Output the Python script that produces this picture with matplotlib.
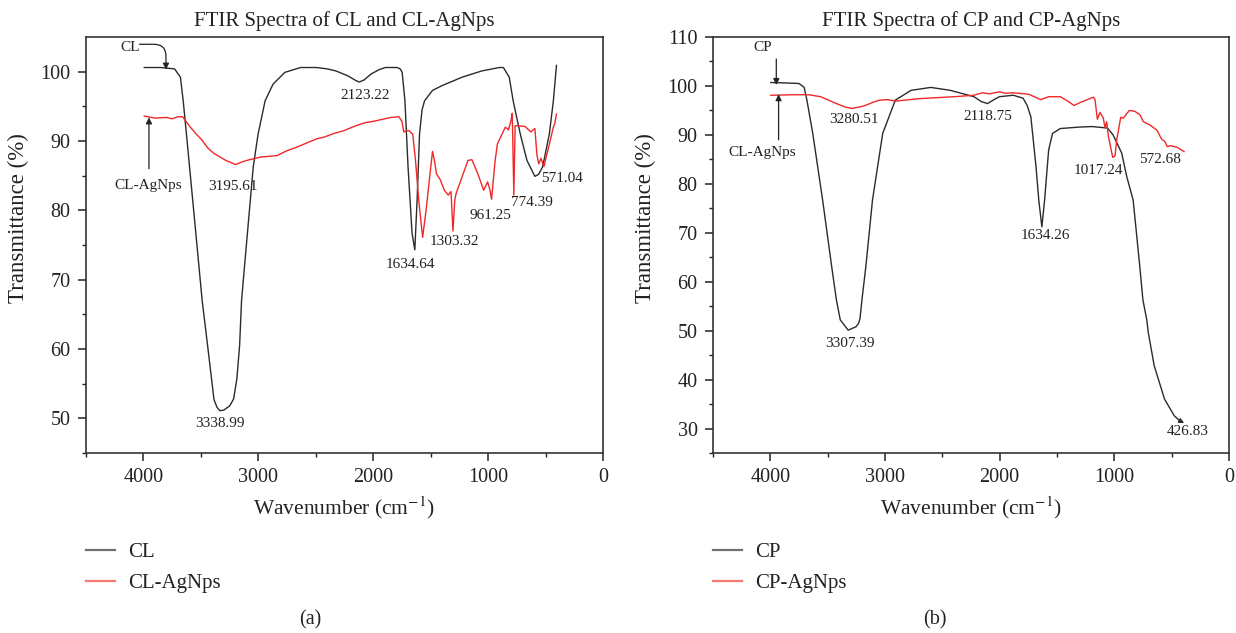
import matplotlib
matplotlib.use("Agg")
import matplotlib.pyplot as plt

plt.rcParams['font.family'] = ['Liberation Serif', 'DejaVu Serif']
plt.rcParams['mathtext.fontset'] = 'stix'

# ---------------- data (a) ----------------
cl_wn = [3993, 3850, 3729, 3678, 3654, 3620, 3580, 3540, 3489, 3438, 3386, 3360, 3335, 3300,
         3249, 3215, 3187, 3163, 3146, 3120, 3095, 3044, 3002, 2941, 2872, 2769, 2632, 2495,
         2400, 2324, 2221, 2160, 2123, 2080, 2015, 1947, 1895, 1793, 1765, 1748, 1724, 1697,
         1662, 1638, 1618, 1597, 1575, 1553, 1484, 1399, 1227, 1056, 902, 867, 816, 782, 720,
         662, 593, 560, 525, 467, 432, 405]
cl_t = [100.6, 100.6, 100.4, 99.2, 95.8, 90.0, 83.0, 76.0, 67.0, 60.0, 52.7, 51.6, 51.1, 51.2,
        51.8, 52.8, 55.7, 60.5, 67.0, 72.0, 76.7, 86.3, 91.0, 95.8, 98.2, 99.9, 100.6, 100.6,
        100.4, 100.1, 99.4, 98.8, 98.5, 98.8, 99.7, 100.3, 100.6, 100.6, 100.4, 99.9, 95.8, 86.3,
        76.7, 74.3, 81.5, 91.0, 94.5, 95.8, 97.3, 98.0, 99.2, 100.1, 100.6, 100.6, 99.2, 95.8, 91.0,
        87.2, 84.9, 85.2, 86.3, 91.0, 95.8, 100.9]

clag_wn = [3993, 3900, 3800, 3750, 3700, 3660, 3592, 3540, 3489, 3440, 3386, 3283, 3198, 3140,
           3078, 2975, 2900, 2838, 2750, 2667, 2495, 2420, 2358, 2255, 2152, 2080, 1981, 1900,
           1844, 1776, 1750, 1734, 1710, 1690, 1656, 1632, 1604, 1570, 1540, 1518, 1484, 1465,
           1450, 1416, 1381, 1347, 1323, 1306, 1290, 1279, 1227, 1176, 1141, 1090, 1039, 1004,
           985, 970, 940, 919, 850, 823, 800, 790, 776, 765, 748, 679, 627, 610, 593, 575, 559,
           540, 514, 490, 473, 432, 420, 405]
clag_t = [93.6, 93.3, 93.4, 93.2, 93.5, 93.5, 92.0, 91.0, 90.1, 89.0, 88.2, 87.2, 86.6, 87.0,
          87.3, 87.7, 87.8, 87.9, 88.6, 89.1, 90.3, 90.6, 91.0, 91.5, 92.2, 92.6, 92.9, 93.2,
          93.4, 93.5, 92.8, 91.3, 91.5, 91.5, 91.0, 87.2, 81.5, 76.1, 80.0, 83.4, 88.5, 87.0,
          85.3, 84.4, 82.9, 82.2, 82.7, 77.0, 81.5, 82.4, 84.8, 87.2, 87.3, 85.3, 82.9, 84.1,
          83.0, 81.6, 87.0, 89.6, 92.0, 91.6, 93.0, 94.0, 82.2, 92.2, 92.2, 92.1, 91.3, 91.6, 91.8,
          88.0, 86.7, 87.5, 86.3, 88.0, 89.1, 92.0, 92.5, 93.9]

# ---------------- data (b) ----------------
cp_wn = [3996, 3850, 3750, 3705, 3681, 3630, 3544, 3465, 3424, 3390, 3321, 3253, 3230, 3218,
         3201, 3167, 3109, 3020, 2910, 2773, 2601, 2430, 2224, 2160, 2105, 2050, 2002, 1882,
         1796, 1760, 1728, 1683, 1659, 1632, 1608, 1573, 1539, 1471, 1300, 1196, 1060, 1011,
         936, 892, 836, 778, 751, 717, 704, 652, 562, 477, 430]
cp_t = [100.7, 100.6, 100.5, 99.7, 97.1, 90.3, 76.7, 63.1, 56.3, 52.2, 50.1, 50.8, 51.5, 52.5,
        56.3, 63.1, 76.7, 90.3, 97.1, 99.1, 99.7, 99.1, 97.8, 96.8, 96.4, 97.2, 97.8, 98.1,
        97.5, 96.0, 93.7, 83.5, 76.7, 71.2, 76.7, 86.9, 90.3, 91.3, 91.6, 91.7, 91.4, 90.0,
        86.3, 81.5, 76.7, 63.1, 56.3, 52.2, 49.6, 42.8, 36.0, 32.6, 31.6]
cp_end_wn = 391
cp_end_t = 31.1

cpag_wn = [3996, 3800, 3664, 3561, 3424, 3350, 3287, 3184, 3100, 3047, 2978, 2910, 2704, 2396,
           2224, 2150, 2087, 2000, 1950, 1882, 1745, 1680, 1642, 1573, 1471, 1400, 1351, 1299,
           1183, 1169, 1148, 1125, 1096, 1081, 1067, 1052, 1014, 994, 979, 944, 922, 869, 820,
           776, 747, 689, 630, 587, 558, 538, 514, 456, 392]
cpag_t = [98.1, 98.2, 98.2, 97.8, 96.4, 95.7, 95.4, 95.9, 96.7, 97.1, 97.2, 96.9, 97.4, 97.8,
          98.1, 98.6, 98.4, 98.8, 98.5, 98.6, 98.3, 97.6, 97.2, 97.8, 97.8, 96.8, 96.0, 96.6,
          97.7, 97.3, 93.2, 94.6, 93.4, 91.4, 92.7, 89.7, 85.4, 85.7, 89.0, 93.6, 93.4, 95.0, 94.8,
          94.1, 92.7, 92.0, 91.0, 89.1, 88.6, 87.6, 87.8, 87.5, 86.6]

# peak labels: (text, x, y)
labels_a = [("3338.99", 3334, 49.2), ("3195.61", 3221, 83.4), ("2123.22", 2067, 96.6),
            ("1634.64", 1673, 72.2), ("1303.32", 1296, 75.5), ("961.25", 977, 79.3),
            ("774.39", 617, 81.1), ("571.04", 353, 84.6)]
labels_b = [("3307.39", 3304, 47.3), ("3280.51", 3270, 93.1), ("2118.75", 2104, 93.7),
            ("1634.26", 1601, 69.5), ("1017.24", 1135, 82.8), ("572.68", 600, 85.0),
            ("426.83", 364, 29.3)]

BLACK = '#2b2b2b'
RED = '#f0282a'
TXT = '#222222'
W, H = 1236, 633

fig = plt.figure(figsize=(W / 100, H / 100), dpi=100)
ax1 = fig.add_axes([86 / W, 1 - 453 / H, 517 / W, 416 / H])
ax2 = fig.add_axes([713 / W, 1 - 453 / H, 516 / W, 416 / H])


def style(ax, ylim, yticks):
    ax.set_xlim(4500, 0)
    ax.set_ylim(*ylim)
    ax.set_xticks([4000, 3000, 2000, 1000, 0])
    ax.set_xticks([4500, 3500, 2500, 1500, 500], minor=True)
    ax.set_yticks(yticks)
    ax.set_yticks([v + 5 for v in yticks[:-1]] + ([yticks[0] - 5] if ylim[0] < yticks[0] - 4 else []),
                  minor=True)
    ax.tick_params(which='major', direction='out', length=6, width=1.1, labelsize=14.5,
                   pad=5, colors=TXT)
    ax.tick_params(which='minor', direction='out', length=3, width=1.0, colors=TXT)
    for s in ax.spines.values():
        s.set_linewidth(1.2)
        s.set_color('#333333')
    ax.set_ylabel('Transmittance (%)', fontsize=16.5, color=TXT)
    ax.yaxis.set_label_coords(-0.11, 0.565)
    ax.set_xlabel(r'Wavenumber (cm$^{-1}$)', fontsize=15.5, color=TXT)
    ax.xaxis.set_label_coords(0.5, -0.10)


# ---- panel a ----
l1, = ax1.plot(cl_wn, cl_t, color=BLACK, lw=1.0, label='CL')
l2, = ax1.plot(clag_wn, clag_t, color=RED, lw=1.0, label='CL-AgNps')
style(ax1, (45, 105), [50, 60, 70, 80, 90, 100])
ax1.set_title('FTIR Spectra of CL and CL-AgNps', fontsize=15, pad=8, color=TXT)
for t, x, y in labels_a:
    ax1.text(x, y, t, fontsize=11, ha='center', va='center', color=TXT)
ax1.text(4117, 103.5, 'CL', fontsize=11, ha='center', va='center', color=TXT)
ax1.annotate('', xy=(3804, 100.3), xytext=(4035, 103.95),
             arrowprops=dict(arrowstyle='-|>', color=TXT, lw=0.9,
                             connectionstyle='angle,angleA=0,angleB=90,rad=12',
                             shrinkA=0, shrinkB=0, mutation_scale=9))
ax1.text(3960, 83.6, 'CL-AgNps', fontsize=11, ha='center', va='center', color=TXT)
ax1.annotate('', xy=(3952, 93.4), xytext=(3952, 86.0),
             arrowprops=dict(arrowstyle='-|>', color=TXT, lw=0.9,
                             shrinkA=0, shrinkB=0, mutation_scale=9))
leg1 = ax1.legend(handles=[l1, l2], loc='upper left', bbox_to_anchor=(0.0, -0.215),
                  frameon=False, fontsize=15, handlelength=1.4, handletextpad=0.6,
                  labelspacing=0.55, borderpad=0, borderaxespad=0)
fig.text(310 / W, 1 - 620 / H, '(a)', fontsize=14.5, ha='center', va='center', color=TXT)

# ---- panel b ----
l3, = ax2.plot(cp_wn, cp_t, color=BLACK, lw=1.0, label='CP')
ax2.annotate('', xy=(cp_end_wn, cp_end_t), xytext=(cp_wn[-1], cp_t[-1]),
             arrowprops=dict(arrowstyle='-|>', color=BLACK, lw=1.0,
                             shrinkA=0, shrinkB=0, mutation_scale=7))
l4, = ax2.plot(cpag_wn, cpag_t, color=RED, lw=1.0, label='CP-AgNps')
style(ax2, (25, 110), [30, 40, 50, 60, 70, 80, 90, 100, 110])
ax2.set_title('FTIR Spectra of CP and CP-AgNps', fontsize=15, pad=8, color=TXT)
for t, x, y in labels_b:
    ax2.text(x, y, t, fontsize=11, ha='center', va='center', color=TXT)
ax2.text(4068, 107.8, 'CP', fontsize=11, ha='center', va='center', color=TXT)
ax2.annotate('', xy=(3948, 100.2), xytext=(3948, 105.5),
             arrowprops=dict(arrowstyle='-|>', color=TXT, lw=0.9,
                             shrinkA=0, shrinkB=0, mutation_scale=9))
ax2.text(4075, 86.5, 'CL-AgNps', fontsize=11, ha='center', va='center', color=TXT)
ax2.annotate('', xy=(3928, 98.3), xytext=(3928, 89.0),
             arrowprops=dict(arrowstyle='-|>', color=TXT, lw=0.9,
                             shrinkA=0, shrinkB=0, mutation_scale=9))
leg2 = ax2.legend(handles=[l3, l4], loc='upper left', bbox_to_anchor=(0.0, -0.215),
                  frameon=False, fontsize=15, handlelength=1.4, handletextpad=0.6,
                  labelspacing=0.55, borderpad=0, borderaxespad=0)
fig.text(935 / W, 1 - 620 / H, '(b)', fontsize=14.5, ha='center', va='center', color=TXT)

for leg in (leg1, leg2):
    hs = leg.legend_handles
    hs[0].set_color('#707070')
    hs[1].set_color('#f47a72')
    for h in hs:
        h.set_linewidth(1.6)
    for t in leg.get_texts():
        t.set_color(TXT)

fig.savefig('out.png', dpi=100)
